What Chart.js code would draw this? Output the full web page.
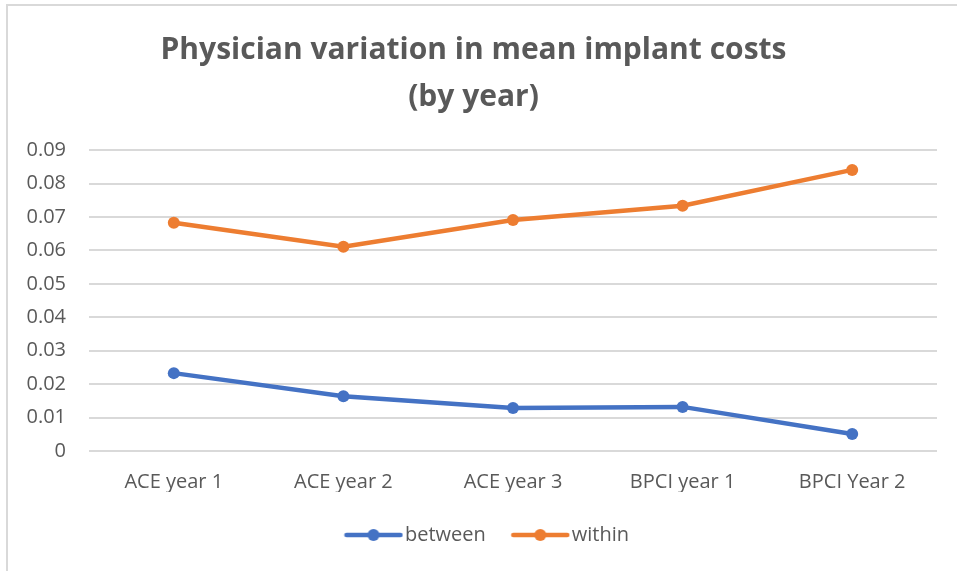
<!DOCTYPE html>
<html>
<head>
<meta charset="utf-8">
<script src="https://cdn.jsdelivr.net/npm/chart.js@4"></script>
<style>
html,body{margin:0;padding:0;background:#fff;}
#frame{position:absolute;left:6px;top:4px;width:951px;height:567px;border-left:2px solid #d9d9d9;border-top:2px solid #d9d9d9;}
#wrap{position:absolute;left:0;top:0;width:957px;height:571px;}
</style>
</head>
<body>
<div id="frame"></div>
<div id="wrap"><canvas id="c" width="957" height="571"></canvas></div>
<script>
const categories = ['ACE year 1', 'ACE year 2', 'ACE year 3', 'BPCI year 1', 'BPCI Year 2'];
const betweenValues = [0.0233, 0.0164, 0.0129, 0.0132, 0.0051];
const withinValues = [0.0683, 0.0611, 0.0691, 0.0734, 0.0841];
const yTicks = [0, 0.01, 0.02, 0.03, 0.04, 0.05, 0.06, 0.07, 0.08, 0.09];
const titleLines = ['Physician variation in mean implant costs', '(by year)'];

const BLUE = '#4472C4', ORANGE = '#ED7D31', TEXT = '#595959', GRID = '#d9d9d9';
const FONT = '"Open Sans", Lato, sans-serif';

function legendIcon(color) {
  const cv = document.createElement('canvas');
  cv.width = 60; cv.height = 16;
  const g = cv.getContext('2d');
  g.strokeStyle = color; g.lineWidth = 4.5; g.lineCap = 'round';
  g.beginPath(); g.moveTo(3, 8); g.lineTo(57, 8); g.stroke();
  g.fillStyle = color;
  g.beginPath(); g.arc(30, 8, 6, 0, Math.PI * 2); g.fill();
  return cv;
}
const icons = [legendIcon(BLUE), legendIcon(ORANGE)];

const legendShift = {
  id: 'legendShift',
  afterLayout(chart) {
    const L = chart.legend;
    if (L) { L.left += 17; L.right += 17; }
  }
};

new Chart(document.getElementById('c'), {
  type: 'line',
  plugins: [legendShift],
  data: {
    labels: categories,
    datasets: [
      { label: 'between', data: betweenValues, borderColor: BLUE, backgroundColor: BLUE,
        borderWidth: 4.5, pointRadius: 6, pointHoverRadius: 6, pointBorderWidth: 0, tension: 0 },
      { label: 'within', data: withinValues, borderColor: ORANGE, backgroundColor: ORANGE,
        borderWidth: 4.5, pointRadius: 6, pointHoverRadius: 6, pointBorderWidth: 0, tension: 0 }
    ]
  },
  options: {
    responsive: false,
    animation: false,
    layout: { padding: { left: 10, right: 20, top: 27, bottom: 16 } },
    plugins: {
      tooltip: { enabled: false },
      title: {
        display: true, text: titleLines, color: TEXT,
        font: { family: FONT, size: 30, weight: 'bold', lineHeight: 1.57 },
        padding: { top: 0, bottom: 29 }
      },
      legend: {
        position: 'bottom',
        labels: {
          usePointStyle: true, pointStyleWidth: 43, boxHeight: 16,
          color: TEXT, font: { family: FONT, size: 20 }, padding: 33,
          generateLabels: (chart) => chart.data.datasets.map((ds, i) => ({
            text: ds.label, pointStyle: icons[i], fillStyle: ds.borderColor,
            strokeStyle: ds.borderColor, lineWidth: 0, fontColor: TEXT, datasetIndex: i, hidden: false
          }))
        }
      }
    },
    scales: {
      x: {
        offset: true,
        grid: { display: false, drawTicks: false },
        border: { display: false },
        ticks: { color: TEXT, font: { family: FONT, size: 20 }, padding: 19, maxRotation: 0 },
        afterFit: (s) => { s.height = 41; }
      },
      y: {
        min: 0, max: 0.09,
        afterBuildTicks: (s) => { s.ticks = yTicks.map(v => ({ value: v })); },
        grid: { color: GRID, lineWidth: 2, drawTicks: false },
        border: { display: false },
        ticks: { color: TEXT, font: { family: FONT, size: 20 }, padding: 23,
          callback: (v) => String(+v.toFixed(2)) },
        afterFit: (s) => { s.width = 79; }
      }
    }
  }
});
</script>
</body>
</html>
